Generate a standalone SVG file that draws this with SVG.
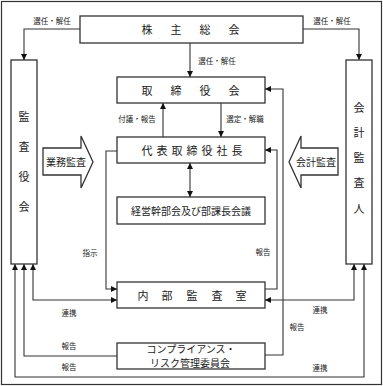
<svg xmlns="http://www.w3.org/2000/svg" width="383" height="386" viewBox="0 0 383 386">
<style>
.bx{fill:#fff;stroke:#333;stroke-width:1.3}
.ln{fill:none;stroke:#333;stroke-width:1.1}
.t{font-family:"Liberation Serif","Noto Sans CJK JP",serif;fill:#222;text-anchor:middle;dominant-baseline:central}
.big{font-size:11px}
.mid{font-size:10px}
.sm{font-size:7.5px}
</style>
<defs>
<marker id="ah" viewBox="0 0 10 10" refX="10" refY="5" markerWidth="6" markerHeight="6" markerUnits="userSpaceOnUse" orient="auto-start-reverse">
<path d="M0,0 L10,5 L0,10 Z" fill="#111"/>
</marker>
</defs>
<rect x="1.5" y="1.5" width="380" height="383" fill="#fff" stroke="#333" stroke-width="1.2"/>

<g id="connectors">
<path class="ln" d="M80,29 H24 V60" marker-end="url(#ah)"/>
<path class="ln" d="M303,29 H359 V60" marker-end="url(#ah)"/>
<path class="ln" d="M190,43 V77" marker-end="url(#ah)"/>
<path class="ln" d="M163,137 V103" marker-end="url(#ah)"/>
<path class="ln" d="M221,103 V137" marker-end="url(#ah)"/>
<path class="ln" d="M190,163 V197" marker-start="url(#ah)" marker-end="url(#ah)"/>
<path class="ln" d="M117,151 H106 V289 H117" marker-end="url(#ah)"/>
<path class="ln" d="M265,289 H277 V150 H265" marker-end="url(#ah)"/>
<path class="ln" d="M265,355 H283 V89 H265" marker-end="url(#ah)"/>
<path class="ln" d="M33,264 V300 H117" marker-start="url(#ah)" marker-end="url(#ah)"/>
<path class="ln" d="M117,356 H24 V264" marker-end="url(#ah)"/>
<path class="ln" d="M364,264 V377 H15 V264" marker-start="url(#ah)" marker-end="url(#ah)"/>
<path class="ln" d="M354,264 V300 H265" marker-start="url(#ah)" marker-end="url(#ah)"/>
<text class="t sm" x="52" y="21">選任・解任</text>
<text class="t sm" x="332" y="21">選任・解任</text>
<text class="t sm" x="217" y="61">選任・解任</text>
<text class="t sm" x="137" y="119">付議・報告</text>
<text class="t sm" x="245" y="119">選定・解職</text>
<text class="t sm" x="90" y="253">指示</text>
<text class="t sm" x="263" y="252">報告</text>
<text class="t sm" x="69" y="313">連携</text>
<text class="t sm" x="69" y="346">報告</text>
<text class="t sm" x="69" y="367">報告</text>
<text class="t sm" x="320" y="310">連携</text>
<text class="t sm" x="297" y="327">報告</text>
<text class="t sm" x="320" y="368">連携</text>
</g>

<g id="shareholders">
<rect class="bx" x="80" y="16" width="223" height="27"/>
<text class="t big" x="147" y="30">株</text>
<text class="t big" x="176" y="30">主</text>
<text class="t big" x="205" y="30">総</text>
<text class="t big" x="234" y="30">会</text>
</g>

<g id="audit-board">
<rect class="bx" x="11" y="60" width="26" height="204"/>
<text class="t big" x="24" y="117">監</text>
<text class="t big" x="24" y="147">査</text>
<text class="t big" x="24" y="177">役</text>
<text class="t big" x="24" y="207">会</text>
</g>

<g id="accounting-auditor">
<rect class="bx" x="346" y="60" width="26" height="204"/>
<text class="t big" x="359" y="108">会</text>
<text class="t big" x="359" y="133">計</text>
<text class="t big" x="359" y="158">監</text>
<text class="t big" x="359" y="183">査</text>
<text class="t big" x="359" y="209">人</text>
</g>

<g id="board">
<rect class="bx" x="117" y="77" width="148" height="26"/>
<text class="t big" x="147" y="91">取</text>
<text class="t big" x="176" y="91">締</text>
<text class="t big" x="205" y="91">役</text>
<text class="t big" x="234" y="91">会</text>
</g>

<g id="president">
<rect class="bx" x="117" y="137" width="148" height="26"/>
<text class="t big" x="147" y="151">代</text>
<text class="t big" x="162" y="151">表</text>
<text class="t big" x="177" y="151">取</text>
<text class="t big" x="192" y="151">締</text>
<text class="t big" x="207" y="151">役</text>
<text class="t big" x="222" y="151">社</text>
<text class="t big" x="237" y="151">長</text>
</g>

<g id="management">
<rect class="bx" x="117" y="197" width="148" height="27"/>
<text class="t mid" x="191" y="211">経営幹部会及び部課長会議</text>
</g>

<g id="internal-audit">
<rect class="bx" x="117" y="282" width="148" height="26"/>
<text class="t big" x="143" y="296">内</text>
<text class="t big" x="167" y="296">部</text>
<text class="t big" x="192" y="296">監</text>
<text class="t big" x="217" y="296">査</text>
<text class="t big" x="241" y="296">室</text>
</g>

<g id="compliance">
<rect class="bx" x="117" y="343" width="148" height="26"/>
<text class="t mid" x="191" y="349">コンプライアンス・</text>
<text class="t mid" x="190" y="363">リスク管理委員会</text>
</g>

<g id="operational-audit">
<path class="bx" d="M43,148 H81 V136 L93,162 L81,188 V175 H43 Z"/>
<text class="t mid" x="66" y="162">業務監査</text>
</g>

<g id="accounting-audit">
<path class="bx" d="M338,148 H301 V136 L289,162 L301,188 V175 H338 Z"/>
<text class="t mid" x="316" y="162">会計監査</text>
</g>
</svg>
